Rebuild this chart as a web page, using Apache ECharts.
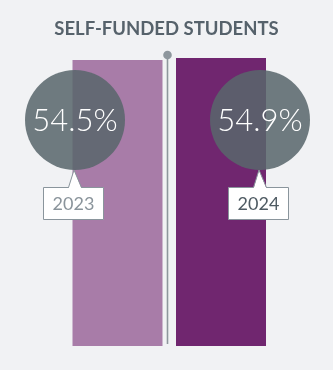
<!DOCTYPE html>
<html>
<head>
<meta charset="utf-8">
<script src="https://cdn.jsdelivr.net/npm/echarts@6/dist/echarts.min.js"></script>
<style>
  html, body { margin: 0; padding: 0; background: #f1f2f4; }
  #chart { width: 333px; height: 370px; }
</style>
</head>
<body>
<div id="chart"></div>
<script>
// Share of self-funded students by year
const years = ['2023', '2024'];
const shares = [54.5, 54.9];

const barColors = ['#a87ca8', '#70266f'];
const yearTextColors = ['#8a949b', '#4f5b63'];
const AXIS_MAX = 55;

const chart = echarts.init(document.getElementById('chart'), null, { renderer: 'canvas' });

function renderBubble(params, api) {
  const i = params.dataIndex;
  const value = api.value(1);
  const top = api.coord([i, AXIS_MAX]);
  const barCenterX = top[0];
  const cx = barCenterX + (i === 0 ? -42.5 : 39);
  const cy = top[1] + 62.5;
  const r = 50;
  const tipY = cy + r;
  const boxTop = tipY + 17;
  const boxW = 60, boxH = 32;
  const boxX = cx - 2 - boxW / 2;
  return {
    type: 'group',
    children: [
      {
        type: 'circle',
        shape: { cx: cx, cy: cy, r: r },
        style: { fill: 'rgba(89,103,107,0.86)' }
      },
      {
        type: 'text',
        style: {
          x: cx, y: cy + 1,
          text: value.toFixed(1) + '%',
          fill: '#ffffff',
          font: '300 31px Lato, "Noto Sans", sans-serif',
          align: 'center', verticalAlign: 'middle'
        }
      },
      {
        type: 'rect',
        shape: { x: boxX + 0.5, y: boxTop + 0.5, width: boxW, height: boxH },
        style: { fill: '#ffffff', stroke: '#8a959c', lineWidth: 1 }
      },
      {
        type: 'polygon',
        shape: { points: [[cx - 6.5, boxTop + 1.5], [cx - 1, tipY], [cx + 6.5, boxTop + 1.5]] },
        style: { fill: '#ffffff' }
      },
      {
        type: 'polyline',
        shape: { points: [[cx - 6.5, boxTop + 0.5], [cx - 1, tipY], [cx + 6.5, boxTop + 0.5]] },
        style: { fill: null, stroke: '#8a959c', lineWidth: 1 }
      },
      {
        type: 'text',
        style: {
          x: boxX + boxW / 2 + 0.5, y: boxTop + boxH / 2 + 1,
          text: years[i],
          fill: yearTextColors[i],
          font: '18px Lato, "Noto Sans", sans-serif',
          align: 'center', verticalAlign: 'middle'
        }
      }
    ]
  };
}

chart.setOption({
  backgroundColor: '#f1f2f4',
  animation: false,
  title: {
    text: 'SELF-FUNDED STUDENTS',
    left: 'center',
    top: 15,
    textStyle: {
      fontFamily: 'Lato',
      fontWeight: 'bold',
      fontSize: 18.5,
      color: '#56626b'
    }
  },
  grid: { left: 65.75, right: 60.25, top: 57.5, bottom: 24 },
  xAxis: {
    type: 'category',
    data: years,
    show: false
  },
  yAxis: {
    type: 'value',
    min: 0,
    max: AXIS_MAX,
    show: false
  },
  series: [
    {
      type: 'bar',
      barWidth: 90,
      data: shares.map((v, i) => ({ value: v, itemStyle: { color: barColors[i] } }))
    },
    {
      type: 'custom',
      renderItem: renderBubble,
      data: shares.map((v, i) => [i, v]),
      z: 5
    }
  ],
  graphic: [
    {
      type: 'line',
      shape: { x1: 167.5, y1: 55, x2: 167.5, y2: 344 },
      style: { stroke: '#8e979d', lineWidth: 1.6 },
      z: 10
    },
    {
      type: 'circle',
      shape: { cx: 167.5, cy: 55, r: 4.3 },
      style: { fill: '#8e979d' },
      z: 10
    }
  ]
});
</script>
</body>
</html>
